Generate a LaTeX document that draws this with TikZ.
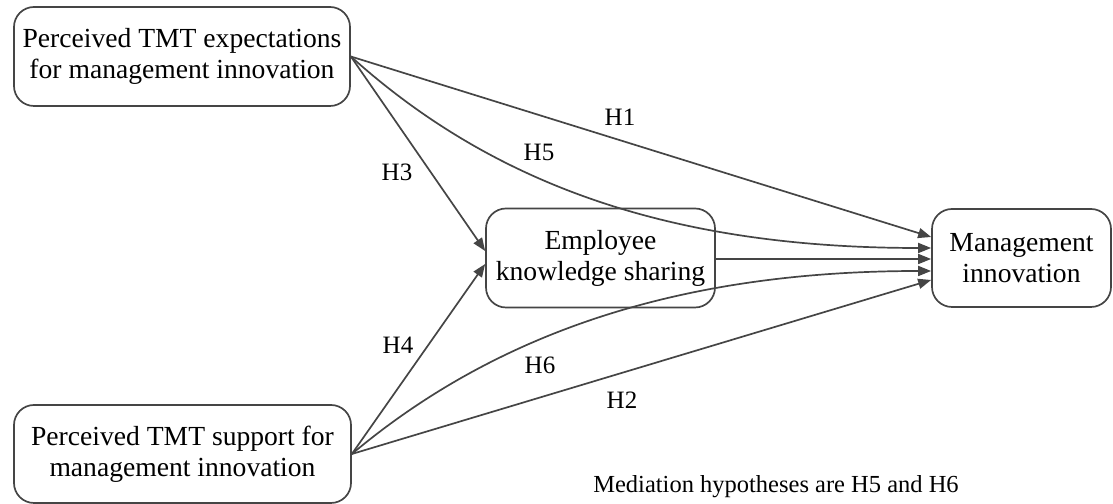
\documentclass[tikz,border=0pt]{standalone}
\usepackage{fontspec}
\setmainfont{Liberation Serif}
\usetikzlibrary{arrows.meta,calc}

\definecolor{traco}{HTML}{454545}

\tikzset{
  caixa/.style={draw=traco, line width=1.7bp, rounded corners=20bp, align=center,
    inner sep=0pt, font=\fontsize{27.6bp}{31bp}\selectfont},
  seta/.style={draw=traco, line width=1.7bp, -{Triangle[length=13bp,width=10bp]}},
  rotulo/.style={font=\fontsize{25bp}{30bp}\selectfont, inner sep=0pt},
}

\begin{document}
\begin{tikzpicture}[x=1bp, y=1bp]

\useasboundingbox (0,0) rectangle (1113,504);

% caixas
\node[caixa, minimum width=336bp, minimum height=99bp] (expect) at (182,447.5) {Perceived TMT expectations\\for management innovation};
\node[caixa, minimum width=337bp, minimum height=98bp] (support) at (182.5,50) {Perceived TMT support for\\management innovation};
\node[caixa, minimum width=229bp, minimum height=99bp] (share) at (600.5,246) {Employee\\knowledge sharing};
\node[caixa, minimum width=179bp, minimum height=98bp] (innov) at (1021.5,246) {Management\\innovation};

% pontos de chegada
\coordinate (in-h1) at ($(innov.west)+(0,21)$);
\coordinate (in-h5) at ($(innov.west)+(0,10)$);
\coordinate (in-ks) at ($(innov.west)+(0,-1)$);
\coordinate (in-h6) at ($(innov.west)+(0,-13)$);
\coordinate (in-h2) at ($(innov.west)+(0,-22)$);
\coordinate (in-h3) at ($(share.west)+(0,7)$);
\coordinate (in-h4) at ($(share.west)+(0,-6)$);

% setas retas
\draw[seta] (expect.east) -- (in-h1);
\draw[seta] (expect.east) -- (in-h3);
\draw[seta] (support.east) -- (in-h4);
\draw[seta] (support.east) -- (in-h2);
\draw[seta] (share.east |- in-ks) -- (in-ks);

% mediacao
\draw[seta] (expect.east) .. controls +(-42:200) and +(180:250) .. (in-h5);
\draw[seta] (support.east) .. controls +(40:190) and +(180:250) .. (in-h6);

% rotulos
\node[rotulo] (h1) at (620,387) {H1};
\node[rotulo] (h5) at (539,352) {H5};
\node[rotulo] (h3) at (397,332) {H3};
\node[rotulo] (h4) at (398,159) {H4};
\node[rotulo] (h6) at (540,139) {H6};
\node[rotulo] (h2) at (622,104) {H2};

\node[rotulo, font=\fontsize{24.5bp}{30bp}\selectfont] (nota) at (776,17) {Mediation hypotheses are H5 and H6};

\end{tikzpicture}
\end{document}
